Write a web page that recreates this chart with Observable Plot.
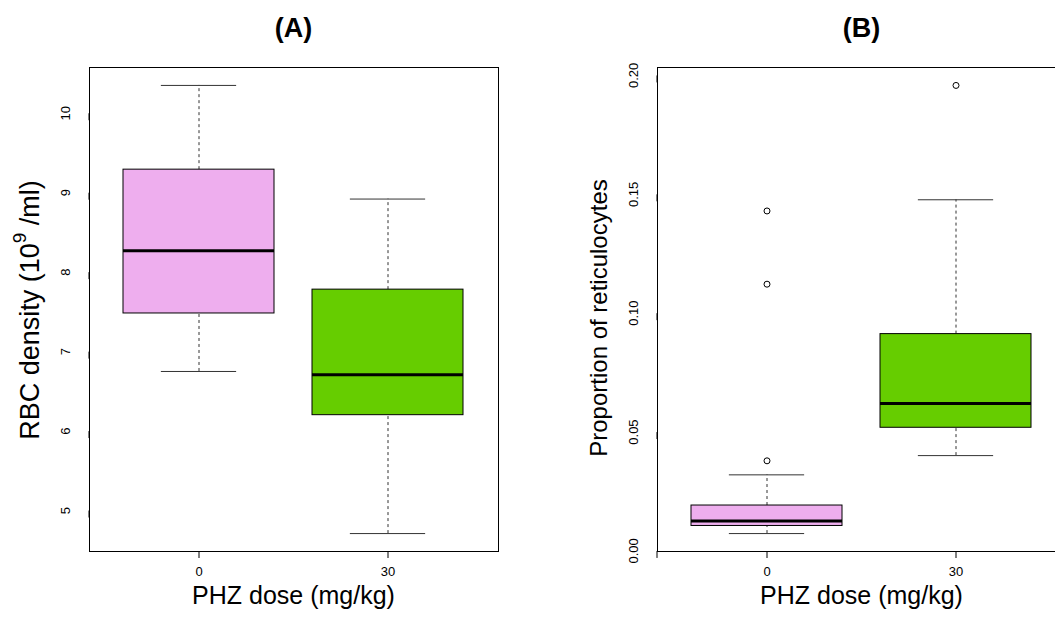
<!DOCTYPE html>
<html><head><meta charset="utf-8">
<script src="https://cdn.jsdelivr.net/npm/d3@7"></script>
<script src="https://cdn.jsdelivr.net/npm/@observablehq/plot@0.6"></script>
<style>
body{margin:0;background:#fff;overflow:hidden;}
#wrap{position:relative;width:1055px;height:617px;overflow:hidden;background:#fff;}
.panel{position:absolute;top:0;}
.panel svg{max-width:none !important;}
</style></head><body><div id="wrap"></div>
<script>
const doses = ["0", "30"];
const boxColors = ["#EEAEEE", "#66CD00"];

// Panel A: RBC density (10^9/ml)
const rbcLow  = [6.75, 4.71];
const rbcQ1   = [7.48, 6.20];
const rbcMed  = [8.27, 6.71];
const rbcQ3   = [9.29, 7.78];
const rbcHigh = [10.35, 8.92];
const rbcOutDose = [];
const rbcOutVal  = [];
const rbcTicks = [5, 6, 7, 8, 9, 10];

// Panel B: proportion of reticulocytes
const retLow  = [0.0073, 0.0401];
const retQ1   = [0.0105, 0.0518];
const retMed  = [0.0126, 0.0620];
const retQ3   = [0.0191, 0.0912];
const retHigh = [0.0320, 0.1477];
const retOutDose = ["0", "0", "0", "30"];
const retOutVal  = [0.0379, 0.1122, 0.1430, 0.1958];
const retTicks = [0, 0.05, 0.10, 0.15, 0.20];

const FONT = "'Liberation Sans', Arial, Helvetica, sans-serif";
const PW = 409, TOP = 67, BOTTOM = 66, H = 617;

function panel(o) {
  const rows = doses.map((d, i) => ({dose: d, lo: o.lo[i], q1: o.q1[i], med: o.med[i], q3: o.q3[i], hi: o.hi[i], color: boxColors[i]}));
  const outs = o.outD.map((d, i) => ({dose: d, v: o.outV[i]}));
  const all = [...o.lo, ...o.hi, ...o.outV];
  const mn = d3.min(all), mx = d3.max(all), pad = (mx - mn) * 0.04;
  const bw = PW / 2.16 * 0.8;
  const svg = Plot.plot({
    width: o.width, height: H,
    marginLeft: o.ml, marginRight: o.width - o.ml - PW, marginTop: TOP, marginBottom: BOTTOM,
    style: {fontFamily: FONT, fontSize: "13px", background: "white", color: "black", overflow: "visible", maxWidth: "none"},
    x: {type: "band", domain: doses, paddingInner: 0.2, paddingOuter: 0.18},
    y: {domain: [mn - pad, mx + pad]},
    color: {type: "identity"},
    marks: [
      Plot.ruleX(rows, {x: "dose", y1: "lo", y2: "q1", stroke: "#333", strokeDasharray: "3,3"}),
      Plot.ruleX(rows, {x: "dose", y1: "q3", y2: "hi", stroke: "#333", strokeDasharray: "3,3"}),
      Plot.tickY(rows, {x: "dose", y: "lo", stroke: "#333", inset: bw / 4}),
      Plot.tickY(rows, {x: "dose", y: "hi", stroke: "#333", inset: bw / 4}),
      Plot.barY(rows, {x: "dose", y1: "q1", y2: "q3", fill: "color", stroke: "black", strokeWidth: 1}),
      Plot.tickY(rows, {x: "dose", y: "med", stroke: "black", strokeWidth: 3}),
      Plot.dot(outs, {x: "dose", y: "v", r: 3, stroke: "black", fill: "none", strokeWidth: 1}),
      Plot.frame({stroke: "black"}),
      Plot.axisY(o.ticks, {tickSize: 7, tickPadding: 13, rotate: -90, textAnchor: "middle", lineAnchor: "bottom", tickFormat: o.fmt, label: null, fontSize: 13, stroke: "black", strokeOpacity: 1}),
      Plot.axisX({tickSize: 7, tickPadding: 8, label: null, fontSize: 13, stroke: "black", strokeOpacity: 1})
    ]
  });
  svg.style.maxWidth = "none";
  svg.style.width = o.width + "px";
  const s = d3.select(svg);
  const cx = o.ml + PW / 2;
  s.append("text").attr("x", cx).attr("y", 28).attr("text-anchor", "middle").attr("dominant-baseline", "central")
    .attr("font-weight", "bold").attr("font-size", 27).attr("font-family", FONT).text(o.title);
  s.append("text").attr("x", cx).attr("y", 595).attr("text-anchor", "middle").attr("dominant-baseline", "central")
    .attr("font-size", 25).attr("font-family", FONT).text("PHZ dose (mg/kg)");
  const yt = s.append("text").attr("transform", `translate(${o.ml - 59},${o.ycenter}) rotate(-90)`)
    .attr("text-anchor", "middle").attr("dominant-baseline", "central").attr("font-family", FONT);
  o.ytitle(yt);
  const div = document.createElement("div");
  div.className = "panel";
  div.style.left = o.left + "px";
  div.style.width = o.width + "px";
  div.appendChild(svg);
  document.getElementById("wrap").appendChild(div);
}

panel({left: 0, width: 527, ml: 89, lo: rbcLow, q1: rbcQ1, med: rbcMed, q3: rbcQ3, hi: rbcHigh,
  outD: rbcOutDose, outV: rbcOutVal, ticks: rbcTicks, fmt: d3.format("d"), title: "(A)", ycenter: 310,
  ytitle: t => { t.attr("font-size", 27);
                 t.append("tspan").text("RBC density (10");
                 t.append("tspan").attr("font-size", 19).attr("dy", -11).text("9");
                 t.append("tspan").attr("dy", 11).text(" /ml)"); }});
panel({left: 527, width: 568, ml: 130, lo: retLow, q1: retQ1, med: retMed, q3: retQ3, hi: retHigh,
  outD: retOutDose, outV: retOutVal, ticks: retTicks, fmt: d3.format(".2f"), title: "(B)", ycenter: 318,
  ytitle: t => t.attr("font-size", 24).text("Proportion of reticulocytes")});
</script></body></html>
